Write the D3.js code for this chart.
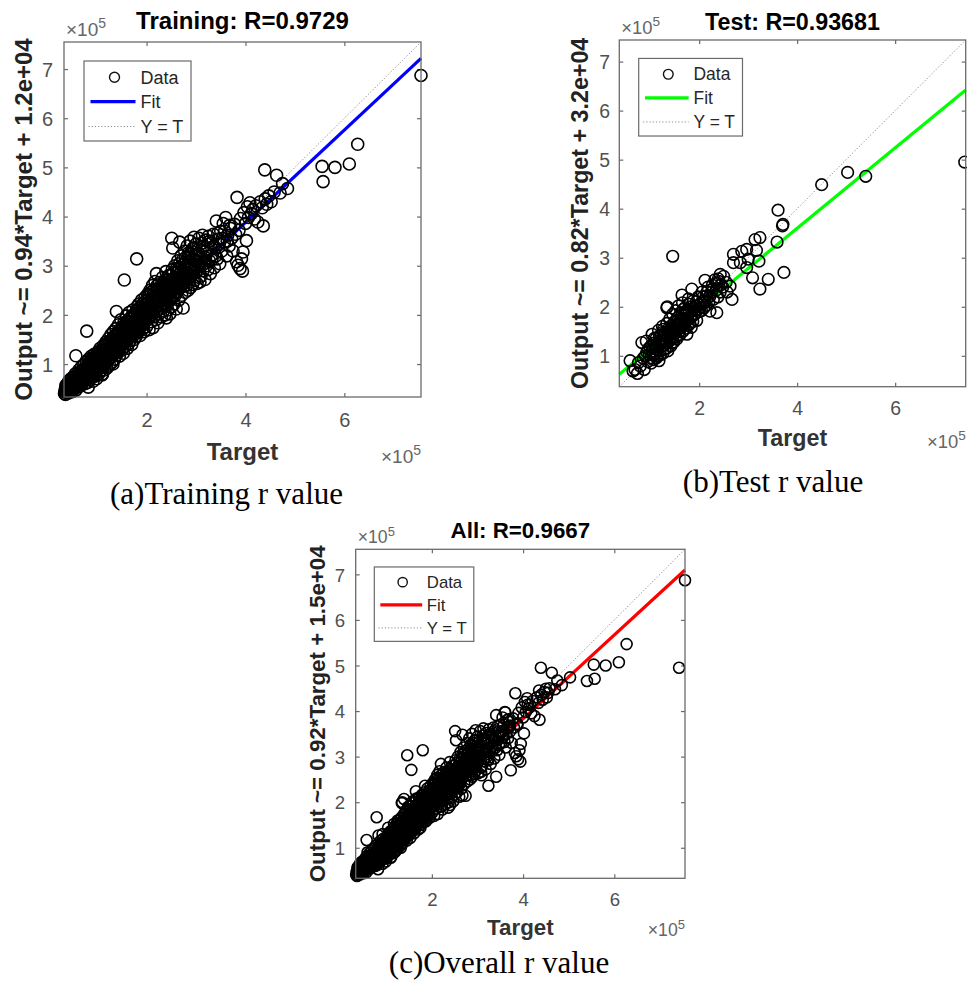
<!DOCTYPE html>
<html>
<head>
<meta charset="utf-8">
<script src="https://cdn.jsdelivr.net/npm/d3@7"></script>
<style>
  body { margin: 0; background: #fff; }
</style>
</head>
<body>
<script>
// all values in units of 1e5 ([target, output])
const trainPoints = [
  [0.34,0.40],[0.35,0.47],[0.36,0.38],[0.37,0.57],[0.38,0.50],[0.39,0.44],[0.40,0.60],[0.41,0.52],[0.42,0.41],[0.43,0.66],
  [0.44,0.49],[0.45,0.56],[0.46,0.45],[0.47,0.70],[0.48,0.53],[0.49,0.62],[0.50,0.44],[0.51,0.58],[0.52,0.74],[0.53,0.50],
  [0.54,0.65],[0.55,0.57],[0.56,0.80],[0.57,1.17],[0.57,0.47],[0.58,0.68],[0.59,0.60],[0.60,0.76],[0.61,0.53],[0.62,0.70],
  [0.63,0.88],[0.64,0.62],[0.65,0.55],[0.66,0.79],[0.67,0.68],[0.68,0.94],[0.69,0.58],[0.70,0.73],
  [0.71,0.85],[0.72,0.64],[0.73,0.98],[0.74,0.76],[0.75,0.60],[0.76,0.90],[0.77,0.70],[0.78,1.05],[0.79,1.67],[0.79,0.82],
  [0.80,0.62],[0.81,0.95],[0.82,0.53],[0.82,0.75],[0.83,1.10],[0.84,0.86],[0.85,0.68],[0.86,1.00],[0.87,0.80],[0.88,1.16],
  [0.89,0.72],[0.90,0.93],[0.91,1.06],[0.92,0.65],[0.93,0.88],[0.94,1.20],[0.95,0.78],[0.96,0.99],[0.97,1.12],[0.98,0.84],
  [0.99,0.70],[1.00,1.04],[1.01,0.92],[1.02,1.25],[1.03,0.80],[1.04,1.10],[1.05,0.96],[1.06,1.32],[1.07,0.86],[1.08,1.18],
  [1.09,1.02],[1.10,0.78],[1.11,0.80],[1.11,1.14],[1.12,0.94],[1.13,1.38],[1.14,1.06],[1.15,0.88],[1.16,1.24],[1.17,1.00],
  [1.18,1.45],[1.19,1.12],[1.20,0.92],
  [1.21,1.30],[1.22,1.08],[1.23,1.52],[1.24,1.20],[1.25,0.98],[1.26,1.38],[1.27,1.14],[1.28,1.60],[1.29,1.26],[1.30,1.04],
  [1.31,1.44],[1.32,1.00],[1.32,1.22],[1.33,1.66],[1.34,1.34],[1.35,1.10],[1.36,1.50],[1.37,1.28],[1.38,1.72],[1.39,1.18],
  [1.39,2.07],[1.40,1.40],[1.41,1.58],[1.42,1.24],[1.43,1.80],[1.44,1.46],[1.45,1.16],[1.46,1.62],[1.47,1.36],[1.48,1.90],
  [1.49,1.52],[1.50,1.28],[1.51,1.70],[1.52,1.44],[1.53,1.22],[1.54,1.84],[1.55,2.71],[1.55,1.58],[1.56,1.36],[1.57,1.76],
  [1.58,1.50],[1.59,1.98],[1.60,1.64],[1.61,1.32],[1.62,1.86],[1.63,1.56],[1.64,1.42],[1.65,2.05],[1.66,1.72],[1.67,1.48],
  [1.68,1.92],[1.69,1.62],[1.70,1.40],[1.71,1.82],[1.72,2.10],[1.73,1.58],[1.74,1.76],[1.75,1.50],[1.76,2.00],[1.77,1.68],
  [1.78,1.88],[1.79,1.56],[1.80,3.14],[1.80,2.16],[1.81,1.80],[1.82,1.64],[1.83,1.96],[1.84,2.22],[1.85,1.72],[1.86,1.90],
  [1.87,1.58],[1.88,2.08],[1.89,1.84],[1.90,2.30],[1.91,1.70],[1.92,1.98],[1.93,2.14],[1.94,1.80],[1.95,1.66],[1.96,2.04],
  [1.97,2.36],[1.98,1.88],[1.99,2.20],[2.00,1.76],
  [2.01,2.10],[2.02,2.42],[2.03,1.92],[2.04,2.26],[2.05,1.70],[2.06,2.04],[2.07,2.50],[2.08,2.18],[2.09,1.86],[2.10,2.34],
  [2.11,2.00],[2.12,2.60],[2.13,1.74],[2.13,2.22],[2.14,2.44],[2.15,1.96],[2.16,2.12],[2.17,2.68],[2.18,2.30],[2.19,1.90],
  [2.20,2.84],[2.20,2.06],[2.21,2.50],[2.22,2.20],[2.23,1.84],[2.24,2.38],[2.25,2.02],[2.26,2.66],[2.27,2.28],[2.28,2.14],
  [2.29,2.52],[2.30,1.96],[2.31,2.40],[2.32,2.76],[2.33,2.24],[2.34,2.08],[2.35,2.58],[2.36,2.34],[2.37,2.00],[2.38,2.48],
  [2.39,2.88],[2.40,1.94],[2.40,2.20],[2.41,2.64],[2.42,2.40],[2.43,2.10],[2.44,2.54],[2.45,2.80],[2.46,2.28],[2.47,2.02],
  [2.48,2.70],[2.49,2.44],[2.50,2.16],[2.51,3.56],[2.51,2.60],[2.52,2.92],[2.53,3.36],[2.53,2.36],[2.54,2.74],[2.55,2.22],
  [2.56,2.52],[2.57,3.00],[2.58,2.40],[2.59,2.68],[2.60,2.12],
  [2.61,2.86],[2.62,2.48],[2.63,3.10],[2.64,2.62],[2.65,2.30],[2.66,2.94],[2.67,3.48],[2.68,2.56],[2.69,2.78],[2.70,3.20],
  [2.71,2.40],[2.72,2.70],[2.73,3.02],[2.74,2.14],[2.75,2.58],[2.76,2.88],[2.77,3.30],[2.78,2.46],[2.79,2.76],[2.80,3.08],
  [2.81,2.60],[2.82,3.40],[2.83,2.84],[2.84,2.50],[2.85,3.16],[2.86,2.68],[2.87,2.96],[2.88,3.50],[2.89,2.56],[2.90,3.24],
  [2.91,2.80],[2.92,3.04],[2.93,2.62],[2.94,3.36],[2.95,2.90],[2.96,3.58],[2.97,2.70],[2.98,3.12],[2.99,2.86],[3.00,3.44],
  [3.02,2.64],[3.03,3.20],[3.04,2.98],[3.06,3.56],[3.07,2.76],[3.08,2.67],[3.09,3.30],[3.10,2.79],[3.11,3.06],[3.13,3.62],
  [3.14,2.90],[3.15,3.40],[3.17,3.18],[3.18,2.72],[3.19,3.52],
  [3.21,3.00],[3.23,3.34],[3.25,3.60],[3.27,3.10],[3.29,2.84],[3.31,3.46],[3.33,3.22],[3.35,3.64],[3.37,2.96],[3.39,3.36],
  [3.41,3.91],[3.43,3.14],[3.45,3.54],[3.48,3.04],[3.50,3.70],[3.52,3.30],[3.55,3.86],[3.57,3.48],[3.60,3.98],[3.62,3.20],
  [3.64,3.62],[3.67,3.40],[3.70,3.76],[3.72,3.56],[3.75,3.30],[3.78,3.84],[3.80,3.64],[3.82,3.08],[3.83,4.39],[3.85,3.01],
  [3.87,3.72],[3.89,2.94],[3.90,3.96],[3.92,3.14],[3.94,2.89],[3.95,3.28],[3.97,4.08],[4.00,3.86],[4.02,3.51],[4.04,4.20],
  [4.06,3.98],[4.09,4.28],[4.12,4.06],[4.15,4.14],[4.18,3.95],[4.21,4.22],[4.25,3.89],[4.30,4.30],[4.34,4.18],[4.36,3.81],
  [4.39,4.95],[4.40,4.36],[4.43,4.25],[4.47,4.42],[4.52,4.30],[4.58,4.50],[4.63,4.84],[4.70,4.48],[4.75,4.67],[4.85,4.57],
  [5.55,5.02],[5.57,4.71],[5.81,5.00],[6.10,5.07],[6.27,5.47],[7.55,6.87],
  // core of the band
  [0.355,0.43],[0.365,0.52],[0.375,0.46],[0.385,0.58],[0.395,0.49],[0.405,0.45],[0.415,0.56],[0.425,0.61],[0.435,0.47],[0.445,0.59],
  [0.455,0.51],[0.465,0.64],[0.475,0.48],[0.485,0.57],[0.495,0.67],[0.505,0.52],[0.515,0.63],[0.525,0.55],[0.535,0.69],[0.545,0.53],
  [0.555,0.61],[0.565,0.72],[0.575,0.56],[0.585,0.64],[0.595,0.74],[0.605,0.58],[0.615,0.66],[0.625,0.78],[0.635,0.60],[0.645,0.71],
  [0.655,0.84],[0.665,0.63],[0.675,0.75],[0.685,0.66],[0.695,0.86],[0.705,0.62],[0.715,0.77],[0.725,0.70],[0.735,0.88],[0.745,0.67],
  [0.755,0.81],[0.765,0.74],[0.775,0.93],[0.785,0.68],[0.795,0.88],[0.805,0.77],[0.815,1.00],[0.825,0.71],[0.835,0.92],[0.845,0.80],
  [0.855,1.06],[0.865,0.74],[0.875,0.96],[0.885,0.86],[0.895,1.10],[0.905,0.79],[0.915,0.99],[0.925,0.91],[0.935,1.14],[0.945,0.83],
  [0.955,1.06],[0.965,0.94],[0.975,0.76],[0.985,1.18],[0.995,0.96],
  [1.005,0.98],[1.015,1.16],[1.025,0.90],[1.035,1.06],[1.045,1.22],[1.055,0.95],[1.065,1.12],[1.075,1.01],[1.085,1.28],[1.095,0.94],
  [1.105,1.17],[1.115,1.04],[1.125,1.31],[1.135,0.99],[1.145,1.20],[1.155,1.09],[1.165,1.36],[1.175,1.03],[1.185,1.25],[1.195,1.16],
  [1.205,1.41],[1.215,1.07],[1.225,1.28],[1.235,1.19],[1.245,1.46],[1.255,1.12],[1.265,1.33],[1.275,1.22],[1.285,1.49],[1.295,1.15],
  [1.305,1.37],[1.315,1.26],[1.325,1.55],[1.335,1.19],[1.345,1.42],[1.355,1.31],[1.365,1.57],[1.375,1.23],[1.385,1.47],[1.395,1.34],
  [1.405,1.63],[1.415,1.27],[1.425,1.50],[1.435,1.39],[1.445,1.67],[1.455,1.31],[1.465,1.55],[1.475,1.44],[1.485,1.73],[1.495,1.37],
  [1.505,1.58],[1.515,1.49],[1.525,1.77],[1.535,1.41],[1.545,1.64],[1.555,1.51],[1.565,1.81],[1.575,1.45],[1.585,1.69],[1.595,1.56],
  [1.605,1.87],[1.615,1.49],[1.625,1.73],[1.635,1.62],[1.645,1.91],[1.655,1.53],[1.665,1.78],[1.675,1.65],[1.685,1.95],[1.695,1.57],
  [1.705,1.81],[1.715,1.70],[1.725,1.99],[1.735,1.63],[1.745,1.86],[1.755,1.73],[1.765,2.03],[1.775,1.65],[1.785,1.92],[1.795,1.79],
  [1.805,2.09],[1.815,1.71],[1.825,1.95],[1.835,1.84],[1.845,2.13],[1.855,1.75],[1.865,2.01],[1.875,1.87],[1.885,2.17],[1.895,1.79],
  [1.905,2.05],[1.915,1.92],[1.925,2.23],[1.935,1.85],[1.945,2.08],[1.955,1.97],[1.965,2.27],[1.975,1.87],[1.985,2.13],[1.995,2.01],
  [2.005,2.16],[2.02,2.30],[2.035,2.04],[2.05,2.40],[2.065,2.20],[2.08,1.98],[2.095,2.46],[2.11,2.26],[2.125,2.10],[2.14,2.34],
  [2.155,2.52],[2.17,2.16],[2.185,2.40],[2.20,2.27],[2.215,2.60],[2.23,2.10],[2.245,2.46],[2.26,2.31],[2.275,2.54],[2.29,2.18],
  [2.305,2.62],[2.32,2.36],[2.335,2.50],[2.35,2.22],[2.365,2.70],[2.38,2.38],[2.395,2.56],[2.41,2.28],[2.425,2.72],[2.44,2.42],
  [2.455,2.62],[2.47,2.34],[2.485,2.80],[2.50,2.50],[2.515,2.66],[2.53,2.40],[2.545,2.86],[2.56,2.58],[2.575,2.72],[2.59,2.46],
  [2.605,2.94],[2.62,2.66],[2.635,2.80],[2.65,2.54],[2.665,3.04],[2.68,2.72],[2.695,2.88],[2.71,2.60],[2.725,3.12],[2.74,2.80],
  [2.755,2.96],[2.77,2.66],[2.785,3.16],[2.80,2.86],[2.815,3.02],[2.83,2.72],[2.845,3.26],[2.86,2.92],[2.875,3.08],[2.89,2.78],
  [2.905,3.30],[2.92,2.96],[2.935,3.14],[2.95,2.84],[2.965,3.36],[2.98,3.00],[2.995,3.20],
  [3.01,3.08],[3.05,3.26],[3.08,3.00],[3.12,3.46],[3.16,3.10],[3.20,3.30],[3.24,2.92],[3.28,3.50],[3.32,3.12],[3.36,3.40],
  [3.40,3.20],[3.44,3.66],[3.47,3.44],[3.53,3.56],[3.58,3.70],[3.63,3.50],[3.68,3.82]
];

const testPoints = [
  [7.42,4.95],[5.40,4.66],[5.03,4.74],[4.50,4.49],[3.61,3.97],[3.71,3.68],[3.70,3.65],[3.59,3.32],[3.73,2.70],[3.24,2.36],
  [3.41,2.56],[3.09,2.59],[3.22,2.93],[3.24,3.41],[3.14,3.37],[2.97,3.17],[3.17,3.15],[1.46,3.03],[2.70,3.07],[2.87,3.13],
  [2.70,2.90],[2.84,2.90],[2.97,2.80],[3.00,2.97],[2.57,2.30],[2.67,2.15],[2.63,2.42],[2.39,2.57],[2.43,2.66],[2.36,2.48],
  [2.12,2.54],[2.27,2.44],[2.22,1.91],[2.36,1.88],[2.09,2.12],[1.85,2.36],[1.65,2.24],[1.78,2.16],[1.34,1.98],[1.35,2.00],
  [1.68,1.95],[1.92,1.92],[2.02,1.99],[2.15,2.03],[2.29,2.15],[2.43,2.30],
  [0.59,0.90],[0.65,0.69],[0.69,0.72],[0.74,0.64],[0.76,0.86],[0.80,0.79],[0.83,1.27],[0.86,0.95],[0.88,0.72],[0.92,1.30],
  [0.93,1.08],[0.95,0.88],[0.98,1.02],[1.00,1.18],[1.02,0.85],[1.04,1.44],[1.05,1.10],[1.07,0.92],[1.08,1.26],[1.10,1.04],
  [1.12,1.35],[1.14,1.00],[1.15,1.18],[1.17,1.52],[1.18,0.90],[1.19,1.28],[1.20,1.10],[1.22,1.42],[1.23,1.20],[1.25,1.60],
  [1.26,1.05],[1.27,1.54],[1.28,1.32],[1.30,1.14],[1.31,1.48],[1.33,1.26],[1.34,1.66],[1.35,1.38],[1.36,1.10],[1.38,1.56],
  [1.39,1.30],[1.40,1.75],[1.41,1.44],[1.42,1.20],[1.44,1.62],[1.45,1.36],[1.46,1.85],[1.47,1.52],[1.48,1.28],[1.50,1.70],
  [1.51,1.46],[1.52,1.92],[1.53,1.60],[1.54,1.34],[1.56,1.78],[1.57,1.54],[1.58,2.02],[1.59,1.66],[1.60,1.42],[1.62,1.88],
  [1.63,1.58],[1.64,1.72],[1.66,2.08],[1.67,1.50],[1.68,1.82],[1.70,1.64],[1.71,1.98],[1.73,1.74],[1.75,1.44],[1.76,1.90],
  [1.78,1.62],[1.80,2.05],[1.82,1.78],[1.84,1.58],[1.86,1.94],[1.88,2.12],[1.90,1.84],[1.93,2.02],[1.95,1.72],[1.98,2.20],
  [2.00,1.90],[2.04,2.08],[2.06,2.30],[2.10,1.98],[2.14,2.22],[2.18,2.40],[2.20,2.10],[2.25,2.30],[2.32,2.55],[2.38,2.20],
  [2.45,2.45],[2.50,2.62],[2.55,2.50],
  [0.90,1.00],[0.96,1.14],[1.01,0.96],[1.03,1.22],[1.06,1.02],[1.09,1.36],[1.11,1.14],[1.13,0.96],[1.16,1.26],[1.19,1.40],
  [1.21,1.02],[1.24,1.30],[1.26,1.48],[1.29,1.22],[1.32,1.40],[1.34,1.16],[1.37,1.50],[1.40,1.34],[1.43,1.56],[1.45,1.26],
  [1.48,1.46],[1.50,1.62],[1.52,1.38],[1.55,1.56],[1.57,1.72],[1.60,1.50],[1.62,1.64],[1.65,1.84],[1.67,1.62],[1.70,1.76],
  [1.72,1.56],[1.74,1.92],[1.77,1.74],[1.79,1.86],[1.81,1.66],[1.83,2.00],[1.85,1.80],[1.87,1.70],[1.89,1.98],[1.92,1.86],
  [1.94,2.10],[1.97,1.94],[2.01,2.04],[2.05,1.92],[2.08,2.20],[2.12,2.10],[2.16,2.30],[2.22,2.22],[2.28,2.36],[2.35,2.34],
  [2.40,2.52],[2.48,2.40],[1.10,1.20],[1.20,1.32],[1.30,1.30],[1.40,1.48],[1.50,1.54],[1.60,1.70],[1.70,1.70],[1.80,1.90]
];

const validationPoints = [
  [0.45,0.52],[0.52,0.63],[0.61,0.58],[0.70,0.82],[0.78,0.70],[0.85,0.98],[0.93,0.84],[1.01,1.12],[1.09,0.96],[1.16,1.30],
  [1.24,1.12],[1.31,1.40],[1.40,1.28],[1.47,1.62],[1.55,1.44],[1.63,1.80],[1.71,1.60],[1.79,1.94],[1.88,1.76],[1.96,2.12],
  [2.05,1.94],[2.14,2.36],[2.23,2.12],[2.31,2.50],[2.42,2.30],[2.52,2.66],[2.62,2.44],[2.74,2.90],[2.86,2.60],[3.00,3.16],
  [3.15,2.96],[3.30,3.50],[3.47,3.26],[3.65,3.80],[3.88,3.70],[4.10,4.14],[4.35,4.45],[4.55,4.40],
  [0.40,0.46],[0.48,0.56],[0.56,0.66],[0.64,0.70],[0.74,0.84],[0.82,0.90],[0.90,1.02],[0.97,1.06],[1.05,1.18],[1.12,1.22],
  [1.20,1.34],[1.28,1.36],[1.35,1.52],[1.44,1.50],[1.52,1.70],[1.60,1.66],[1.68,1.86],[1.76,1.82],[1.84,2.02],[1.92,1.98],
  [2.00,2.22],[2.09,2.16],[2.18,2.40],[2.27,2.32],[2.36,2.58],[2.46,2.50],[2.57,2.78],[2.68,2.68],[2.80,2.98],[2.92,2.86],
  [3.06,3.24],[3.22,3.14],[3.38,3.58],[3.55,3.42]
];

const panelNames = ["Training", "Test", "All"];
const rValues = ["0.9729", "0.93681", "0.9667"];
const fitSlopes = [0.94, 0.82, 0.92];
const fitIntercepts = [0.12, 0.32, 0.15];
const interceptLabels = ["1.2e+04", "3.2e+04", "1.5e+04"];
const axisLimits = [[0.33, 7.55], [0.37, 7.44], [0.33, 7.55]];
const xTicks = [2, 4, 6];
const yTicks = [1, 2, 3, 4, 5, 6, 7];
const fitColors = ["#0000ff", "#00ff00", "#ff0000"];
const legendLabels = ["Data", "Fit", "Y = T"];
const captions = ["(a)Training r value", "(b)Test r value", "(c)Overall r value"];

const width = 967, height = 983;
const sans = "'Liberation Sans', Arial, sans-serif";
const serif = "'Liberation Serif', 'Times New Roman', serif";
const axisColor = "#6a6a6a";
const tickColor = "#505050";

const svg = d3.select("body").append("svg")
    .attr("width", width)
    .attr("height", height)
    .style("background", "#fff");

// box position of each panel and its text scale
const layout = [
    {x0: 64, x1: 421, y0: 42, y1: 397, k: 1, r: 6, titleUp: 13, tickBase: 30.3, yPad: 11,
     ylab: 32, target: 63, exp: 66, cap: [226.5, 504]},
    {x0: 619.3, x1: 965.7, y0: 40, y1: 386.7, k: 0.97, r: 5.8, titleUp: 10, tickBase: 28.3, yPad: 9.3,
     ylab: 31, target: 59.3, exp: 61.5, cap: [773, 492]},
    {x0: 355.7, x1: 685, y0: 549.3, y1: 878.3, k: 0.93, r: 5.5, titleUp: 11, tickBase: 27.7, yPad: 10.7,
     ylab: 30.7, target: 56.7, exp: 57.7, cap: [499, 973]}
];

function styleAxis(g, k) {
    g.attr("font-family", sans).attr("font-size", 20 * k);
    g.select(".domain").remove();
    g.selectAll(".tick line").attr("stroke", axisColor).attr("stroke-width", 1.2);
    g.selectAll(".tick text").attr("fill", tickColor);
}

function expLabel(g, x, y, anchor, k) {
    let t = g.append("text")
        .attr("x", x)
        .attr("y", y)
        .attr("text-anchor", anchor)
        .attr("font-family", sans)
        .attr("font-size", 19 * k)
        .attr("fill", "#666");
    t.append("tspan").text("\u00d710");
    t.append("tspan").attr("dy", -8 * k).attr("font-size", 14 * k).text("5");
}

function drawPanel(i, points) {
    let L = layout[i], k = L.k;
    let lim = axisLimits[i];
    let x = d3.scaleLinear().domain(lim).range([L.x0, L.x1]);
    let y = d3.scaleLinear().domain(lim).range([L.y1, L.y0]);
    let g = svg.append("g");

    // axes with inward ticks on all four sides
    let bottom = g.append("g").attr("transform", `translate(0,${L.y1})`)
        .call(d3.axisBottom(x).tickValues(xTicks).tickSize(-4).tickFormat(d3.format("d")));
    styleAxis(bottom, k);
    bottom.selectAll(".tick text").attr("y", L.tickBase).attr("dy", null);

    let top = g.append("g").attr("transform", `translate(0,${L.y0})`)
        .call(d3.axisTop(x).tickValues(xTicks).tickSize(-4).tickFormat(() => ""));
    styleAxis(top, k);

    let left = g.append("g").attr("transform", `translate(${L.x0},0)`)
        .call(d3.axisLeft(y).tickValues(yTicks).tickSize(-4).tickFormat(d3.format("d")));
    styleAxis(left, k);
    left.selectAll(".tick text").attr("x", -L.yPad).attr("dy", "0.36em");

    let right = g.append("g").attr("transform", `translate(${L.x1},0)`)
        .call(d3.axisRight(y).tickValues(yTicks).tickSize(-4).tickFormat(() => ""));
    styleAxis(right, k);

    // Y = T
    g.append("line")
        .attr("x1", x(lim[0])).attr("y1", y(lim[0]))
        .attr("x2", x(lim[1])).attr("y2", y(lim[1]))
        .attr("stroke", "#8c8c8c")
        .attr("stroke-width", 1)
        .attr("stroke-dasharray", "1.2,2");

    // fit line
    let fit = t => fitSlopes[i] * t + fitIntercepts[i];
    g.append("line")
        .attr("x1", x(lim[0])).attr("y1", y(fit(lim[0])))
        .attr("x2", x(lim[1])).attr("y2", y(fit(lim[1])))
        .attr("stroke", fitColors[i])
        .attr("stroke-width", 3.2);

    // data circles
    g.append("g").selectAll("circle")
        .data(points)
        .join("circle")
        .attr("cx", d => x(d[0]))
        .attr("cy", d => y(d[1]))
        .attr("r", L.r)
        .attr("fill", "none")
        .attr("stroke", "#000")
        .attr("stroke-width", 1.6);

    // box
    g.append("rect")
        .attr("x", L.x0).attr("y", L.y0)
        .attr("width", L.x1 - L.x0).attr("height", L.y1 - L.y0)
        .attr("fill", "none")
        .attr("stroke", axisColor)
        .attr("stroke-width", 1.3);

    // legend
    let lx = L.x0 + 20 * k, ly = L.y0 + 19 * k;
    let leg = g.append("g").attr("transform", `translate(${lx},${ly})`);
    leg.append("rect")
        .attr("width", 107 * k).attr("height", 80 * k)
        .attr("fill", "#fff")
        .attr("stroke", axisColor)
        .attr("stroke-width", 1.2);
    let rows = [16.3, 40.7, 65.5].map(v => v * k);
    leg.append("circle")
        .attr("cx", 30.5 * k).attr("cy", rows[0]).attr("r", 5 * k)
        .attr("fill", "none").attr("stroke", "#111").attr("stroke-width", 1.4);
    leg.append("line")
        .attr("x1", 6.5 * k).attr("x2", 51.5 * k)
        .attr("y1", rows[1]).attr("y2", rows[1])
        .attr("stroke", fitColors[i]).attr("stroke-width", 3.2);
    leg.append("line")
        .attr("x1", 4.5 * k).attr("x2", 51.5 * k)
        .attr("y1", rows[2]).attr("y2", rows[2])
        .attr("stroke", "#8c8c8c").attr("stroke-width", 1).attr("stroke-dasharray", "1.2,2");
    leg.selectAll("text.leg")
        .data(legendLabels)
        .join("text")
        .attr("class", "leg")
        .attr("x", 56.5 * k)
        .attr("y", (d, j) => rows[j] + 6.3 * k)
        .attr("font-family", sans)
        .attr("font-size", 18 * k)
        .attr("fill", "#262626")
        .text(d => d);

    // title
    g.append("text")
        .attr("x", (L.x0 + L.x1) / 2)
        .attr("y", L.y0 - L.titleUp)
        .attr("text-anchor", "middle")
        .attr("font-family", sans)
        .attr("font-weight", "bold")
        .attr("font-size", 24 * k)
        .attr("fill", "#000")
        .text(panelNames[i] + ": R=" + rValues[i]);

    // axis labels
    g.append("text")
        .attr("x", (L.x0 + L.x1) / 2)
        .attr("y", L.y1 + L.target)
        .attr("text-anchor", "middle")
        .attr("font-family", sans)
        .attr("font-weight", "bold")
        .attr("font-size", 24 * k)
        .attr("fill", "#333")
        .text("Target");

    g.append("text")
        .attr("transform", `translate(${L.x0 - L.ylab},${(L.y0 + L.y1) / 2}) rotate(-90)`)
        .attr("text-anchor", "middle")
        .attr("font-family", sans)
        .attr("font-weight", "bold")
        .attr("font-size", 24 * k)
        .attr("fill", "#222")
        .text("Output ~= " + fitSlopes[i] + "*Target + " + interceptLabels[i]);

    // x10^5 exponent labels
    expLabel(g, L.x0 + 2, L.y0 - 6, "start", k);
    expLabel(g, L.x1, L.y1 + L.exp, "end", k);

    // caption
    svg.append("text")
        .attr("x", L.cap[0])
        .attr("y", L.cap[1])
        .attr("text-anchor", "middle")
        .attr("font-family", serif)
        .attr("font-size", 31)
        .attr("fill", "#000")
        .text(captions[i]);
}

const allPoints = trainPoints.concat(validationPoints, testPoints);
drawPanel(0, trainPoints);
drawPanel(1, testPoints);
drawPanel(2, allPoints);
</script>
</body>
</html>
